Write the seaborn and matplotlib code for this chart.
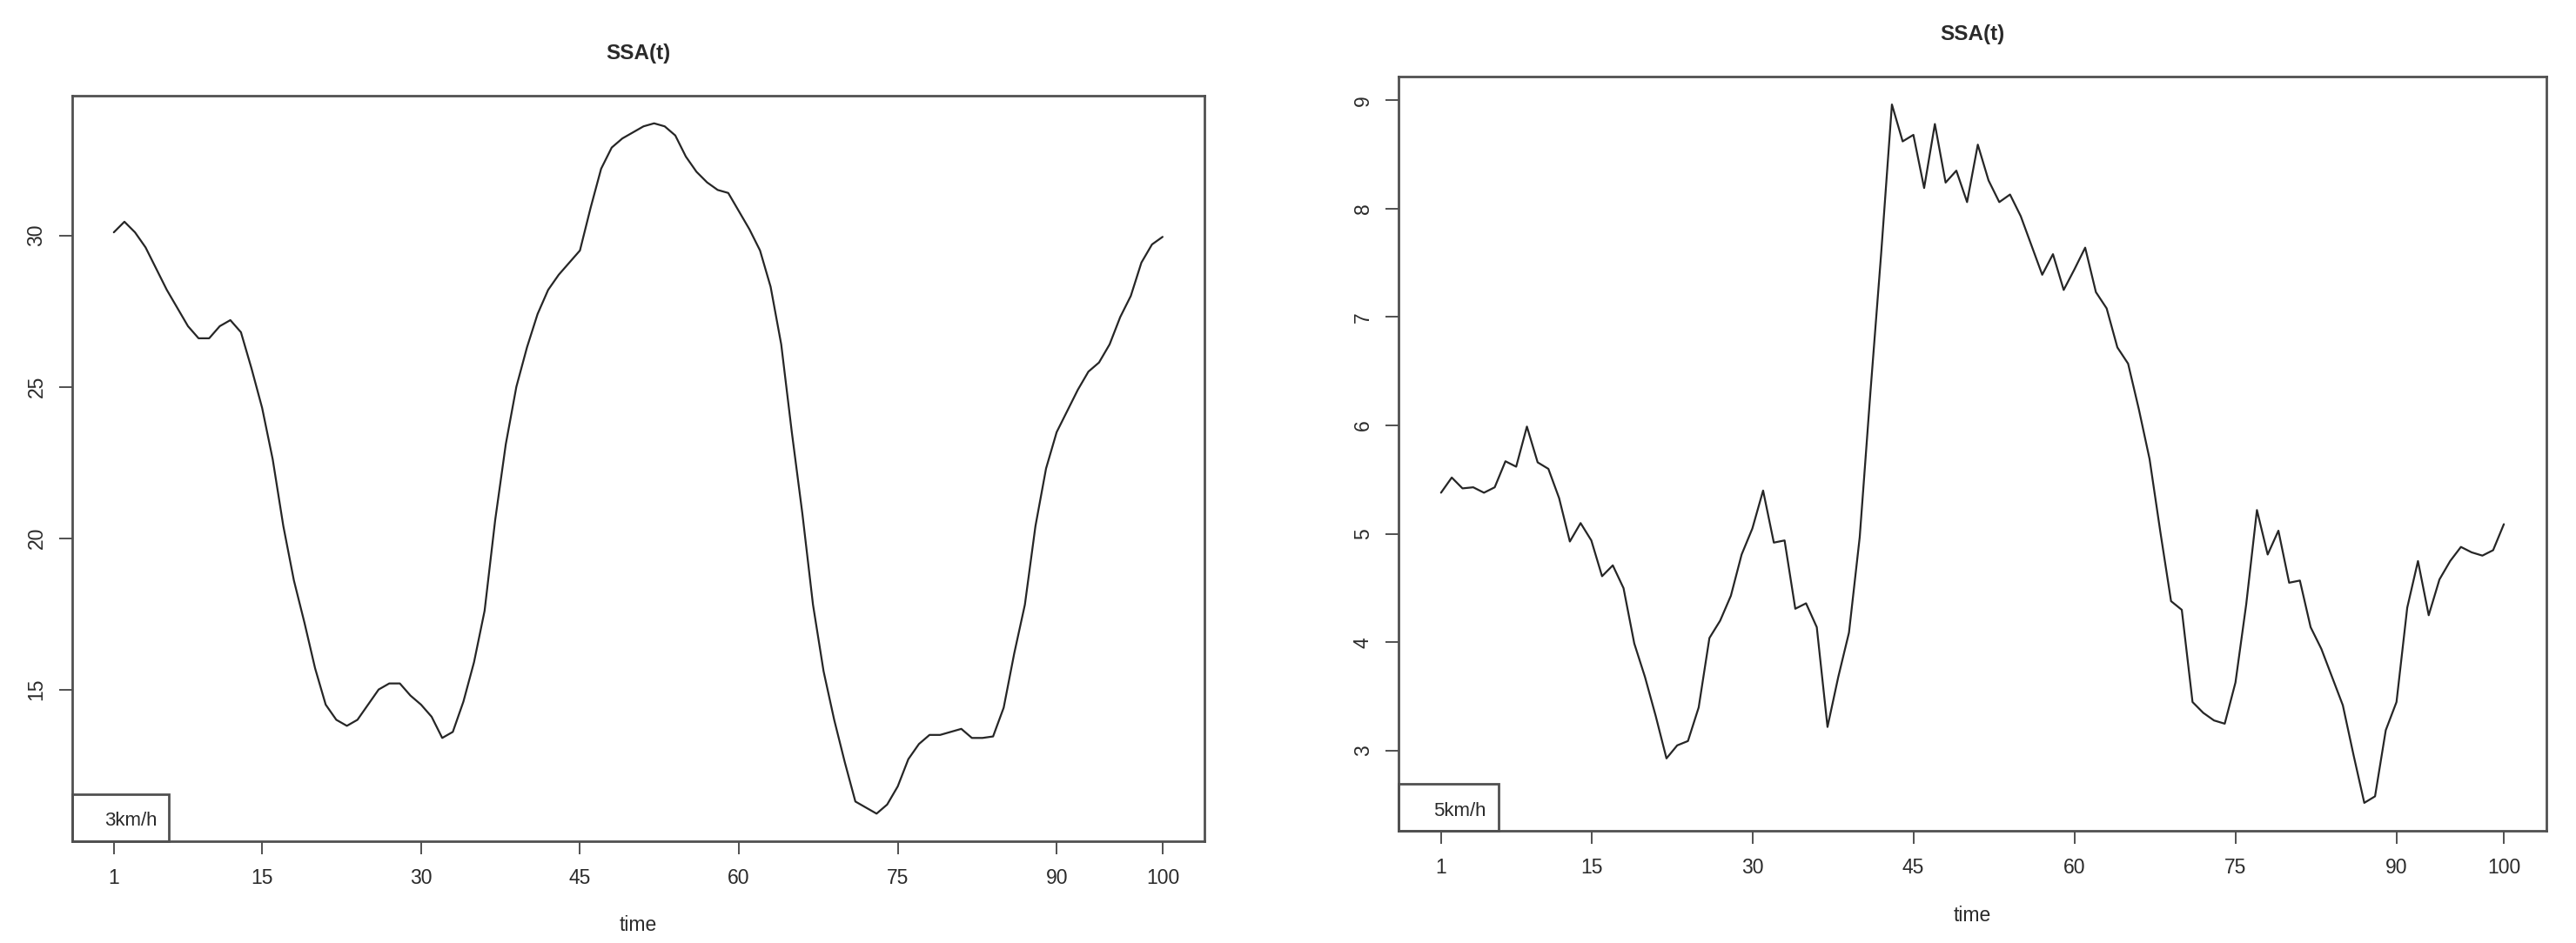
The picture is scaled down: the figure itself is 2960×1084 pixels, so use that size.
import numpy as np
import pandas as pd
import matplotlib
matplotlib.use("Agg")
import matplotlib.pyplot as plt
from matplotlib.patches import Rectangle
import seaborn as sns

# time index of both series
time = np.arange(1, 101)

# SSA(t) at 3 km/h (left panel)
ssa_3kmh = [
    30.1, 30.45, 30.1, 29.6, 28.9, 28.2, 27.6, 27.0, 26.6, 26.6,
    27.0, 27.2, 26.8, 25.6, 24.3, 22.6, 20.4, 18.6, 17.2, 15.7,
    14.5, 14.0, 13.8, 14.0, 14.5, 15.0, 15.2, 15.2, 14.8, 14.5,
    14.1, 13.4, 13.6, 14.6, 15.9, 17.6, 20.6, 23.1, 25.0, 26.3,
    27.4, 28.2, 28.7, 29.1, 29.5, 30.9, 32.2, 32.9, 33.2, 33.4,
    33.6, 33.7, 33.6, 33.3, 32.6, 32.1, 31.75, 31.5, 31.4, 30.8,
    30.2, 29.5, 28.3, 26.4, 23.5, 20.8, 17.8, 15.6, 14.0, 12.6,
    11.3, 11.1, 10.9, 11.2, 11.8, 12.7, 13.2, 13.5, 13.5, 13.6,
    13.7, 13.4, 13.4, 13.45, 14.4, 16.2, 17.8, 20.4, 22.3, 23.5,
    24.2, 24.9, 25.5, 25.8, 26.4, 27.3, 28.0, 29.1, 29.7, 29.95,
]

# SSA(t) at 5 km/h (right panel)
ssa_5kmh = [
    5.38, 5.52, 5.42, 5.43, 5.38, 5.43, 5.67, 5.62, 5.99, 5.66,
    5.60, 5.33, 4.93, 5.10, 4.94, 4.61, 4.71, 4.50, 3.99, 3.68,
    3.32, 2.93, 3.05, 3.09, 3.40, 4.04, 4.20, 4.43, 4.81, 5.05,
    5.40, 4.92, 4.94, 4.31, 4.36, 4.14, 3.22, 3.68, 4.09, 4.97,
    6.31, 7.59, 8.96, 8.62, 8.68, 8.19, 8.78, 8.24, 8.35, 8.06,
    8.59, 8.26, 8.06, 8.13, 7.93, 7.66, 7.39, 7.58, 7.25, 7.44,
    7.64, 7.23, 7.08, 6.72, 6.57, 6.15, 5.69, 5.02, 4.38, 4.30,
    3.45, 3.35, 3.28, 3.25, 3.63, 4.35, 5.22, 4.81, 5.03, 4.55,
    4.57, 4.14, 3.94, 3.68, 3.42, 2.96, 2.52, 2.58, 3.19, 3.45,
    4.32, 4.75, 4.25, 4.58, 4.75, 4.88, 4.83, 4.80, 4.85, 5.09,
]

x_ticks = [1, 15, 30, 45, 60, 75, 90, 100]
y_ticks_3 = [15, 20, 25, 30]
y_ticks_5 = [3, 4, 5, 6, 7, 8, 9]
labels = ["3km/h", "5km/h"]

sns.set_style("white")
plt.rcParams["font.family"] = ["Liberation Sans", "DejaVu Sans"]

fig = plt.figure(figsize=(29.6, 10.84), dpi=100)
ax1 = fig.add_axes([0.0279, 0.1079, 0.4397, 0.7906])
ax2 = fig.add_axes([0.5429, 0.1190, 0.4456, 0.7998])

text_col = "#2a2a2a"
frame_col = "#505050"

panels = [
    (ax1, ssa_3kmh, y_ticks_3, labels[0], 0.0857, 0.063, 0.0288, 0.028),
    (ax2, ssa_5kmh, y_ticks_5, labels[1], 0.0872, 0.0623, 0.0303, 0.0265),
]

for ax, vals, yt, lab, bw, bh, tx, ty in panels:
    df = pd.DataFrame({"time": time, "SSA": vals})
    sns.lineplot(data=df, x="time", y="SSA", ax=ax, color="#262626", linewidth=1.6)

    # R style axis ranges: 4% padding on each side
    lo, hi = min(vals), max(vals)
    r = hi - lo
    ax.set_ylim(lo - 0.04 * r, hi + 0.04 * r)
    ax.set_xlim(1 - 0.04 * 99, 100 + 0.04 * 99)

    ax.set_xticks(x_ticks)
    ax.set_xticklabels([str(v) for v in x_ticks])
    ax.set_yticks(yt)
    ax.set_yticklabels([str(v) for v in yt], rotation=90, va="center")
    ax.tick_params(axis="both", direction="out", length=11, width=1.4,
                   color=frame_col, labelsize=16.5, labelcolor=text_col,
                   bottom=True, left=True)
    ax.tick_params(axis="x", pad=11)
    ax.tick_params(axis="y", pad=10)

    for sp in ax.spines.values():
        sp.set_visible(True)
        sp.set_color(frame_col)
        sp.set_linewidth(2.0)

    ax.set_title("SSA(t)", fontsize=17.5, fontweight="bold", color=text_col, pad=30)
    ax.set_xlabel("time", fontsize=16.5, color=text_col)
    ax.xaxis.set_label_coords(0.5, -0.099)
    ax.set_ylabel("")

    # legend box in the bottom-left corner
    ax.add_patch(Rectangle((0, 0), bw, bh, transform=ax.transAxes, fill=False,
                           edgecolor=frame_col, linewidth=2.0, clip_on=False, zorder=5))
    ax.text(tx, ty, lab, transform=ax.transAxes, fontsize=16, color=text_col,
            ha="left", va="center", zorder=6)

fig.savefig("out.png", dpi=100, facecolor="white")
